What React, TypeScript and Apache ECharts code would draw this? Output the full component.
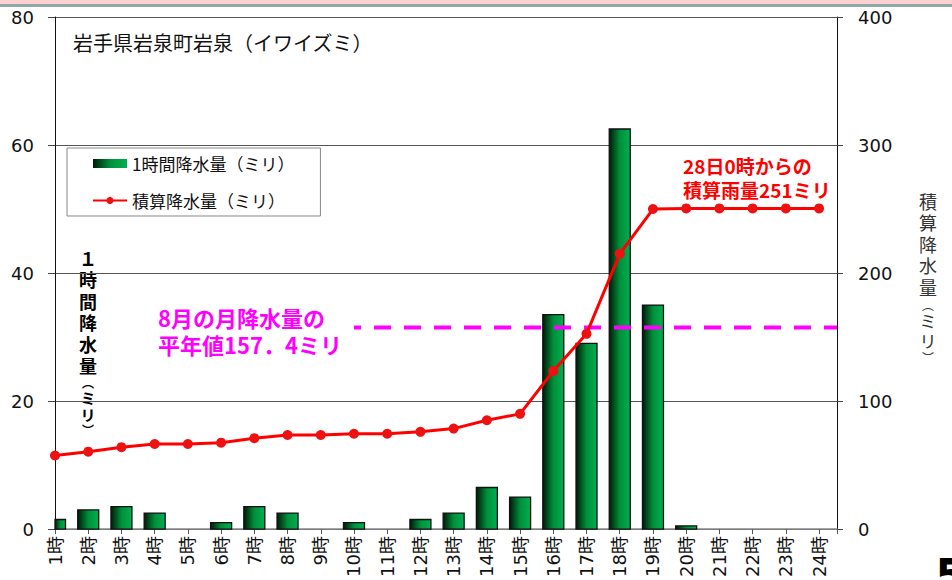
import React, { useEffect, useRef } from "react";
import * as echarts from "echarts";

const hours = [1, 2, 3, 4, 5, 6, 7, 8, 9, 10, 11, 12, 13, 14, 15, 16, 17, 18, 19, 20, 21, 22, 23, 24];
const hourLabels = ["1時", "2時", "3時", "4時", "5時", "6時", "7時", "8時", "9時", "10時", "11時", "12時", "13時", "14時", "15時", "16時", "17時", "18時", "19時", "20時", "21時", "22時", "23時", "24時"];
const hourlyRain = [1.5, 3, 3.5, 2.5, 0, 1, 3.5, 2.5, 0, 1, 0, 1.5, 2.5, 6.5, 5, 33.5, 29, 62.5, 35, 0.5, 0, 0, 0, 0];
const cumulativeRain = [57.5, 60.5, 64, 66.5, 66.5, 67.5, 71, 73.5, 73.5, 74.5, 74.5, 76, 78.5, 85, 90, 123.5, 152.5, 215, 250, 250.5, 250.5, 250.5, 250.5, 250.5];
const normalStartHour = 10;
const normalValue = 157.4;
const leftTicks = { min: 0, max: 80, interval: 20 };
const rightTicks = { min: 0, max: 400, interval: 100 };
const xEnd = 24.54;

const seriesNames = ["1時間降水量（ミリ）", "積算降水量（ミリ）"];

const CJK = "'Noto Sans CJK JP', 'DejaVu Sans', sans-serif";
const NUM = "'DejaVu Sans', 'Noto Sans CJK JP', sans-serif";

export default function App() {
  const ref = useRef<HTMLDivElement>(null);
  useEffect(() => {
    if (!ref.current) return;
    const chart = echarts.init(ref.current, null, { renderer: "svg" });
    const barGradient = {
      type: "linear", x: 0, y: 0, x2: 1, y2: 0,
      colorStops: [
        { offset: 0, color: "#001a08" },
        { offset: 0.5, color: "#008f3a" },
        { offset: 1, color: "#00b050" },
      ],
    };
    const BAR_W = 21;
    const option: any = {
      animation: false,
      backgroundColor: "#ffffff",
      grid: { left: 55, right: 115, top: 17, bottom: 48, containLabel: false },
      legend: {
        orient: "vertical",
        left: 67,
        top: 148,
        itemWidth: 34,
        itemHeight: 9,
        itemGap: 20,
        padding: [7, 26, 7, 25],
        borderColor: "#888",
        borderWidth: 1,
        backgroundColor: "#fff",
        textStyle: { fontSize: 17, color: "#111", fontFamily: CJK },
        data: [{ name: seriesNames[0], icon: "rect" }, { name: seriesNames[1] }],
      },
      xAxis: {
        type: "value",
        min: 1,
        max: xEnd,
        interval: 1,
        axisLine: { show: true, lineStyle: { color: "#888", width: 1.5 } },
        axisTick: { show: true, length: 5, lineStyle: { color: "#555" } },
        splitLine: { show: false },
        axisLabel: {
          rotate: 90,
          margin: 7,
          fontSize: 18,
          color: "#111",
          fontFamily: NUM,
          formatter: (v: number) => (Number.isInteger(v) && v >= 1 && v <= 24 ? hourLabels[v - 1] : ""),
        },
      },
      yAxis: [
        {
          type: "value",
          position: "left",
          ...leftTicks,
          axisLine: { show: true, lineStyle: { color: "#111", width: 1 } },
          axisTick: { show: true, inside: false, length: 7, lineStyle: { color: "#444" } },
          splitLine: { show: true, lineStyle: { color: "#555", width: 1 } },
          axisLabel: { margin: 21, fontSize: 18, color: "#111", fontFamily: NUM },
        },
        {
          type: "value",
          position: "right",
          ...rightTicks,
          axisLine: { show: true, lineStyle: { color: "#111", width: 1 } },
          axisTick: { show: true, inside: false, length: 6, lineStyle: { color: "#444" } },
          splitLine: { show: false },
          axisLabel: { margin: 21, fontSize: 18, color: "#111", fontFamily: NUM },
        },
      ],
      series: [
        {
          name: seriesNames[0],
          type: "custom",
          xAxisIndex: 0,
          yAxisIndex: 0,
          itemStyle: { color: barGradient },
          encode: { x: 0, y: 1 },
          data: hours.map((h, i) => [h, hourlyRain[i]]),
          renderItem: (params: any, api: any) => {
            const x = api.value(0);
            const v = api.value(1);
            if (!(v > 0)) return null;
            const top = api.coord([x, v]);
            const base = api.coord([x, 0]);
            const cs = params.coordSys;
            const shape = echarts.graphic.clipRectByRect(
              { x: top[0] - BAR_W / 2, y: top[1], width: BAR_W, height: base[1] - top[1] },
              { x: cs.x, y: cs.y, width: cs.width, height: cs.height }
            );
            if (!shape) return null;
            return {
              type: "rect",
              shape,
              style: { fill: barGradient, stroke: "#111", lineWidth: 1.3 },
            };
          },
          z: 2,
        },
        {
          name: "平年値",
          type: "line",
          yAxisIndex: 1,
          symbol: "none",
          data: [[normalStartHour, normalValue], [xEnd, normalValue]],
          lineStyle: { color: "#ff00ff", width: 4, type: [17, 13], dashOffset: 10 },
          z: 3,
        },
        {
          name: seriesNames[1],
          type: "line",
          yAxisIndex: 1,
          symbol: "circle",
          symbolSize: 10,
          data: hours.map((h, i) => [h, cumulativeRain[i]]),
          lineStyle: { color: "#ff0000", width: 3 },
          itemStyle: { color: "#ee1111" },
          z: 4,
        },
      ],
      graphic: [
        { type: "rect", shape: { x: 0, y: 0, width: 952, height: 4 }, style: { fill: "#ffd0d0" }, silent: true },
        { type: "rect", shape: { x: 0, y: 4, width: 952, height: 3 }, style: { fill: "#90a8a8" }, silent: true },
        {
          type: "text", x: 73, y: 42,
          style: { text: "岩手県岩泉町岩泉（イワイズミ）", fontSize: 20, fontFamily: CJK, fill: "#111", align: "left", verticalAlign: "middle" },
        },
        {
          type: "text", x: 158, y: 303,
          style: { text: "8月の月降水量の\n平年値157．4ミリ", fontSize: 22, fontWeight: "bold", lineHeight: 27, fontFamily: CJK, fill: "#ff00ff", align: "left", verticalAlign: "top" },
        },
        {
          type: "text", x: 683, y: 153,
          style: { text: "28日0時からの\n積算雨量251ミリ", fontSize: 19, fontWeight: "bold", lineHeight: 24, fontFamily: CJK, fill: "#ff0000", align: "left", verticalAlign: "top" },
        },
        {
          type: "text", x: 88, y: 247,
          style: {
            text: "１\n時\n間\n降\n水\n量\n{p|︵}\n{m|ミ}\n{m|リ}\n{p|︶}",
            fontSize: 18, fontWeight: "bold", lineHeight: 21.5, fontFamily: CJK, fill: "#000",
            align: "center", verticalAlign: "top",
            rich: {
              p: { fontSize: 12, fontWeight: "bold", lineHeight: 13, fontFamily: CJK, fill: "#000" },
              m: { fontSize: 15, fontWeight: "bold", lineHeight: 17, fontFamily: CJK, fill: "#000" },
            },
          },
        },
        {
          type: "text", x: 928, y: 190,
          style: {
            text: "積\n算\n降\n水\n量\n{p|︵}\n{m|ミ}\n{m|リ}\n{p|︶}",
            fontSize: 18, lineHeight: 21.5, fontFamily: CJK, fill: "#333",
            align: "center", verticalAlign: "top",
            rich: {
              p: { fontSize: 12, lineHeight: 13, fontFamily: CJK, fill: "#333" },
              m: { fontSize: 17, lineHeight: 20, fontFamily: CJK, fill: "#333" },
            },
          },
        },
        {
          type: "text", x: 935, y: 553,
          style: { text: "5", fontSize: 46, fontWeight: "bold", fontFamily: NUM, fill: "#000", align: "left", verticalAlign: "top" },
        },
      ],
    };
    chart.setOption(option);
    return () => chart.dispose();
  }, []);
  return <div ref={ref} style={{ position: "fixed", left: 0, top: 0, width: 952, height: 580, background: "#fff" }} />;
}
